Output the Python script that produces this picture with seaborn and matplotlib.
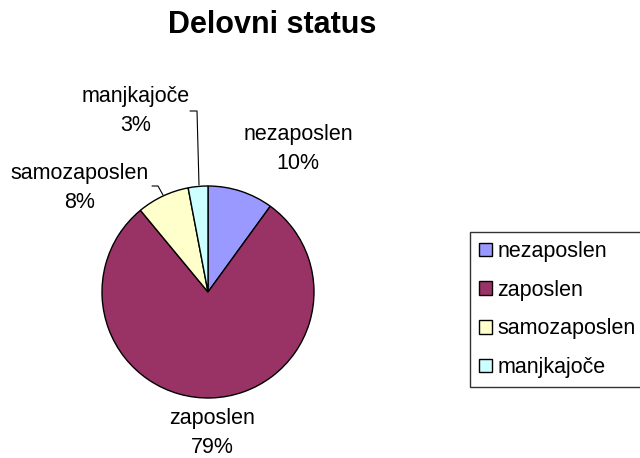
import matplotlib
matplotlib.use("Agg")
import matplotlib.pyplot as plt
from matplotlib.patches import Patch
import seaborn as sns

sns.set_theme(style="white")
plt.rcParams['font.family'] = ['Liberation Sans', 'DejaVu Sans']
plt.rcParams['text.color'] = 'black'

# data
categories = ["nezaposlen", "zaposlen", "samozaposlen", "manjkajoče"]
shares = [10, 79, 8, 3]
colors = ["#9999FF", "#993366", "#FFFFCC", "#CCFFFF"]

W, H = 640, 458
cx, cy, r = 208, 292, 106  # pie centre and radius in pixels

fig = plt.figure(figsize=(W / 100, H / 100), dpi=100)
ax = fig.add_axes([(cx - r) / W, (H - cy - r) / H, 2 * r / W, 2 * r / H])
ax.pie(shares, colors=colors, startangle=90, counterclock=False, radius=1,
       wedgeprops=dict(edgecolor="black", linewidth=1))
ax.set_xlim(-1, 1)
ax.set_ylim(-1, 1)
ax.set_aspect("equal")
ax.axis("off")

def px(x, y):
    # pixel position -> data coordinates of the pie axes
    return (x - cx) / r, (cy - y) / r

label_px = [(298, 149), (212, 433), (80, 188), (136, 111)]
for cat, val, (lx, ly) in zip(categories, shares, label_px):
    dx, dy = px(lx, ly)
    ax.text(dx, dy, f"{cat}\n{val}%", ha="center", va="center", color="black",
            fontsize=15.5, linespacing=1.45, clip_on=False)

# leader lines
for pts in ([(199, 185), (197, 111), (190, 111)], [(163, 195), (158, 186), (152, 186)]):
    xs, ys = zip(*[px(x, y) for x, y in pts])
    ax.plot(xs, ys, color="black", linewidth=0.8, clip_on=False)

fig.text(272 / W, 1 - 25 / H, "Delovni status", ha="center", va="center",
         fontsize=22, fontweight="bold", color="black")

handles = [Patch(facecolor=c, edgecolor="black", linewidth=1) for c in colors]
leg = fig.legend(handles, categories, loc="upper left",
                 bbox_to_anchor=(470 / W, 1 - 232 / H), bbox_transform=fig.transFigure,
                 borderaxespad=0, frameon=True, fancybox=False, fontsize=15.5,
                 handlelength=0.6, handleheight=0.6, handletextpad=0.25,
                 labelspacing=0.82, borderpad=0.42)
for t in leg.get_texts():
    t.set_color("black")
leg.get_frame().set_edgecolor("black")
leg.get_frame().set_linewidth(1)

fig.savefig("out.png", dpi=100)
